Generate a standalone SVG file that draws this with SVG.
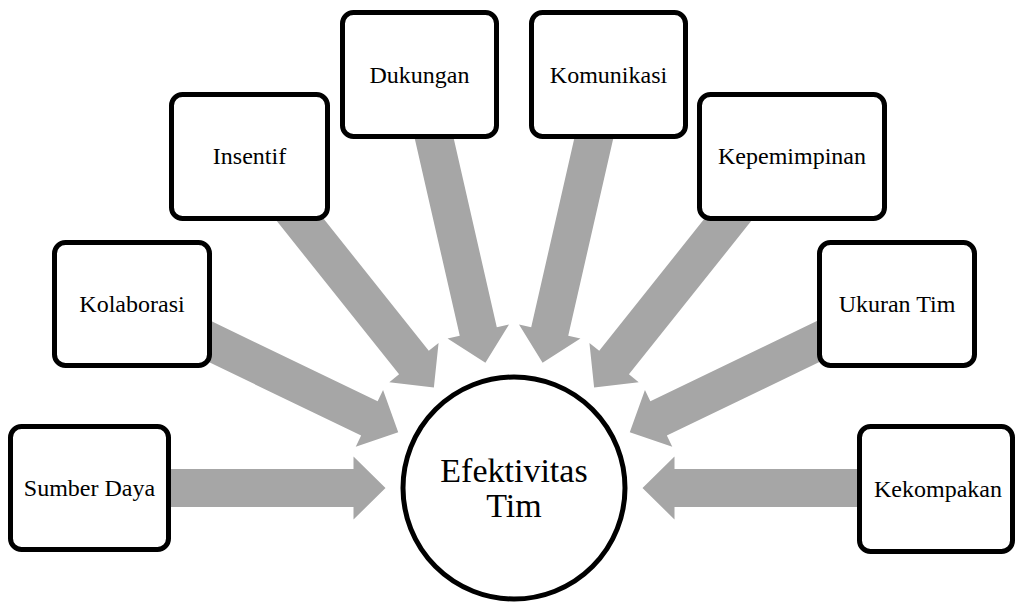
<svg xmlns="http://www.w3.org/2000/svg" width="1015" height="602" viewBox="0 0 1015 602">
  <style>
    .box { fill: #ffffff; stroke: #000000; stroke-width: 5; }
    .hub { fill: #ffffff; stroke: #000000; stroke-width: 5; }
    .lbl { font-family: "Liberation Serif", "Times New Roman", serif; font-size: 24px; fill: #000000; text-anchor: middle; }
    .hubl { font-family: "Liberation Serif", "Times New Roman", serif; font-size: 34px; fill: #000000; text-anchor: middle; }
    .arrow { fill: #a6a6a6; stroke: none; }
  </style>
  <defs>
    <polygon id="arr" class="arrow" points="370,-19 160.5,-19 160.5,-31.5 128.5,0 160.5,31.5 160.5,19 370,19"/>
  </defs>
  <rect width="1015" height="602" fill="#ffffff"/>
  <g id="connectors">
    <use href="#arr" transform="translate(514,488) rotate(180)"/>
    <use href="#arr" transform="translate(514,488) rotate(-154.286)"/>
    <use href="#arr" transform="translate(514,488) rotate(-128.571)"/>
    <use href="#arr" transform="translate(514,488) rotate(-102.857)"/>
    <use href="#arr" transform="translate(514,488) rotate(-77.143)"/>
    <use href="#arr" transform="translate(514,488) rotate(-51.429)"/>
    <use href="#arr" transform="translate(514,488) rotate(-25.714)"/>
    <use href="#arr" transform="translate(514,488)"/>
  </g>
  <g id="node-efektivitas-tim">
    <circle class="hub" cx="514" cy="488" r="111"/>
    <text class="hubl" x="514" y="482">Efektivitas</text>
    <text class="hubl" x="514" y="517">Tim</text>
  </g>
  <g id="node-sumber-daya">
    <rect class="box" x="10.5" y="426.5" width="158" height="123" rx="11"/>
    <text class="lbl" x="89.5" y="496">Sumber Daya</text>
  </g>
  <g id="node-kolaborasi">
    <rect class="box" x="54.5" y="242.5" width="155" height="123" rx="11"/>
    <text class="lbl" x="132" y="312">Kolaborasi</text>
  </g>
  <g id="node-insentif">
    <rect class="box" x="171.5" y="94.5" width="156" height="124" rx="11"/>
    <text class="lbl" x="249.5" y="164">Insentif</text>
  </g>
  <g id="node-dukungan">
    <rect class="box" x="342.5" y="12.5" width="154" height="124" rx="11"/>
    <text class="lbl" x="419.5" y="83">Dukungan</text>
  </g>
  <g id="node-komunikasi">
    <rect class="box" x="531.5" y="12.5" width="154" height="124" rx="11"/>
    <text class="lbl" x="608.5" y="83">Komunikasi</text>
  </g>
  <g id="node-kepemimpinan">
    <rect class="box" x="699.5" y="94.5" width="185" height="124" rx="11"/>
    <text class="lbl" x="792" y="164">Kepemimpinan</text>
  </g>
  <g id="node-ukuran-tim">
    <rect class="box" x="819.5" y="242.5" width="155" height="123" rx="11"/>
    <text class="lbl" x="897" y="312">Ukuran Tim</text>
  </g>
  <g id="node-kekompakan">
    <rect class="box" x="859.5" y="426.5" width="153" height="125" rx="11"/>
    <text class="lbl" x="938" y="497">Kekompakan</text>
  </g>
</svg>
